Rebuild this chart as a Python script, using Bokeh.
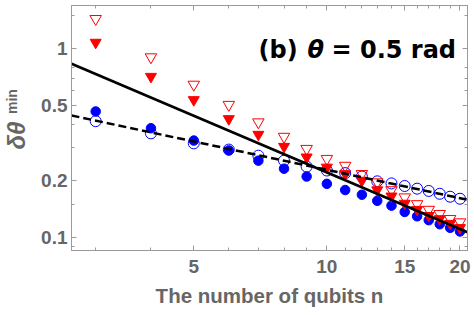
import math
from bokeh.plotting import figure
from bokeh.models import FixedTicker, LogAxis, Label, CustomJSTickFormatter, ColumnDataSource
from bokeh.embed import file_html
from bokeh.resources import INLINE

# ---- data ----
n_qubits = list(range(3, 21))
red_open = [1.44, 0.903, 0.647, 0.506, 0.409, 0.343, 0.296, 0.262, 0.241, 0.218,
            0.197, 0.179, 0.164, 0.151, 0.141, 0.134, 0.126, 0.121]
red_filled = [1.08, 0.713, 0.537, 0.426, 0.352, 0.304, 0.267, 0.236, 0.218, 0.201,
              0.179, 0.166, 0.152, 0.141, 0.131, 0.126, 0.119, 0.113]
blue_open = [0.414, 0.357, 0.316, 0.293, 0.272, 0.256, 0.238, 0.227, 0.220, 0.211,
             0.199, 0.194, 0.188, 0.182, 0.177, 0.171, 0.165, 0.161]
blue_filled = [0.466, 0.380, 0.327, 0.290, 0.256, 0.232, 0.211, 0.193, 0.179, 0.169,
               0.157, 0.148, 0.137, 0.130, 0.124, 0.118, 0.113, 0.108]

# fit lines (end points of straight lines in log-log space)
fit_n = [2.645, 20.8]
fit_solid = [0.833, 0.107]
fit_dashed = [0.444, 0.159]

x_major = [5, 10, 15, 20]
x_minor = [3, 4, 6, 7, 8, 9, 11, 12, 13, 14, 16, 17, 18, 19]
y_major = [0.1, 0.2, 0.5, 1]
y_minor = [0.09, 0.15, 0.3, 0.4, 0.6, 0.7, 0.8, 1.5]

x_label = "The number of qubits n"
y_label_main = "\u03b4\u03b8"
y_label_sup = "min"
title_parts = ["(b)", "\u03b8", "= 0.5 rad"]

GRAY = "#666666"
AX = "#9a9a9a"

p = figure(width=474, height=315, x_axis_type="log", y_axis_type="log",
           x_range=(2.645, 20.8), y_range=(0.0857, 1.694),
           output_backend="svg", toolbar_location=None,
           min_border_left=69, min_border_right=7, min_border_top=5, min_border_bottom=65)
p.background_fill_color = "white"
p.border_fill_color = "white"
p.outline_line_color = AX
p.xgrid.visible = False
p.ygrid.visible = False

src = ColumnDataSource(dict(n=n_qubits, ro=red_open, rf=red_filled, bo=blue_open, bf=blue_filled))
p.scatter("n", "bf", source=src, marker="circle", size=9.5, fill_color="#0000FF", line_color="#0000FF")
p.scatter("n", "bo", source=src, marker="circle", size=11, fill_color=None, line_color="#0000FF", line_width=1)
p.scatter("n", "rf", source=src, marker="inverted_triangle", size=11, fill_color="#FF0000", line_color="#FF0000")
p.scatter("n", "ro", source=src, marker="inverted_triangle", size=11.5, fill_color=None, line_color="#FF0000", line_width=1)

p.line(fit_n, fit_dashed, line_color="black", line_width=2.5, line_dash="8 4")
p.line(fit_n, fit_solid, line_color="black", line_width=2.8)

num_fmt = CustomJSTickFormatter(code="return String(tick);")
empty_fmt = CustomJSTickFormatter(code="return '';")

def style_axis(ax, labels=True):
    ax.axis_line_color = AX
    ax.major_tick_line_color = AX
    ax.minor_tick_line_color = AX
    ax.major_tick_in = 5
    ax.major_tick_out = 0
    ax.minor_tick_in = 3
    ax.minor_tick_out = 0
    ax.major_label_text_font = "Liberation Sans"
    ax.major_label_text_font_style = "bold"
    ax.major_label_text_font_size = "19px"
    ax.major_label_text_color = GRAY
    if not labels:
        ax.formatter = empty_fmt
        ax.major_label_standoff = 0

xt = FixedTicker(ticks=x_major, minor_ticks=x_minor)
yt = FixedTicker(ticks=y_major, minor_ticks=y_minor)

xa = p.xaxis[0]
xa.ticker = xt
xa.formatter = num_fmt
style_axis(xa)
xa.major_label_standoff = 9
xa.axis_label = x_label
xa.axis_label_text_font = "Liberation Sans"
xa.axis_label_text_font_style = "bold"
xa.axis_label_text_font_size = "20.5px"
xa.axis_label_text_color = GRAY
xa.axis_label_standoff = 8

ya = p.yaxis[0]
ya.ticker = yt
ya.formatter = num_fmt
style_axis(ya)
ya.major_label_standoff = 4

top = LogAxis(ticker=FixedTicker(ticks=x_major, minor_ticks=x_minor))
style_axis(top, labels=False)
p.add_layout(top, "above")
right = LogAxis(ticker=FixedTicker(ticks=y_major, minor_ticks=y_minor))
style_axis(right, labels=False)
p.add_layout(right, "right")

# y axis title "δθ^min": two label-only axes on the left
def label_axis(text, at, size, style, standoff):
    ax = LogAxis(ticker=FixedTicker(ticks=[at], minor_ticks=[]),
                 formatter=CustomJSTickFormatter(code="return %r;" % text))
    ax.axis_line_color = None
    ax.major_tick_line_color = None
    ax.minor_tick_line_color = None
    ax.major_tick_in = 0
    ax.major_tick_out = 0
    ax.minor_tick_in = 0
    ax.minor_tick_out = 0
    ax.major_label_orientation = "vertical"
    ax.major_label_text_font = "Liberation Sans"
    ax.major_label_text_font_style = style
    ax.major_label_text_font_size = size
    ax.major_label_text_color = GRAY
    ax.major_label_standoff = standoff
    p.add_layout(ax, "left")

label_axis(y_label_main, 0.3477, "24px", "bold italic", 8)
label_axis(y_label_sup, 0.526, "14px", "bold", -20)

# title pieces (screen units relative to the plot frame)
tb = 200.7
p.add_layout(Label(x=187, y=tb, x_units="screen", y_units="screen", text=title_parts[0],
                   text_font="DejaVu Sans", text_font_style="bold", text_font_size="24px",
                   text_color="black", text_baseline="alphabetic"))
p.add_layout(Label(x=236, y=tb, x_units="screen", y_units="screen", text=title_parts[1],
                   text_font="DejaVu Sans", text_font_style="bold italic", text_font_size="24px",
                   text_color="black", text_baseline="alphabetic"))
p.add_layout(Label(x=260, y=tb, x_units="screen", y_units="screen", text=title_parts[2],
                   text_font="DejaVu Sans", text_font_style="bold", text_font_size="24px",
                   text_color="black", text_baseline="alphabetic"))

open("out.html", "w").write(file_html(p, INLINE))
